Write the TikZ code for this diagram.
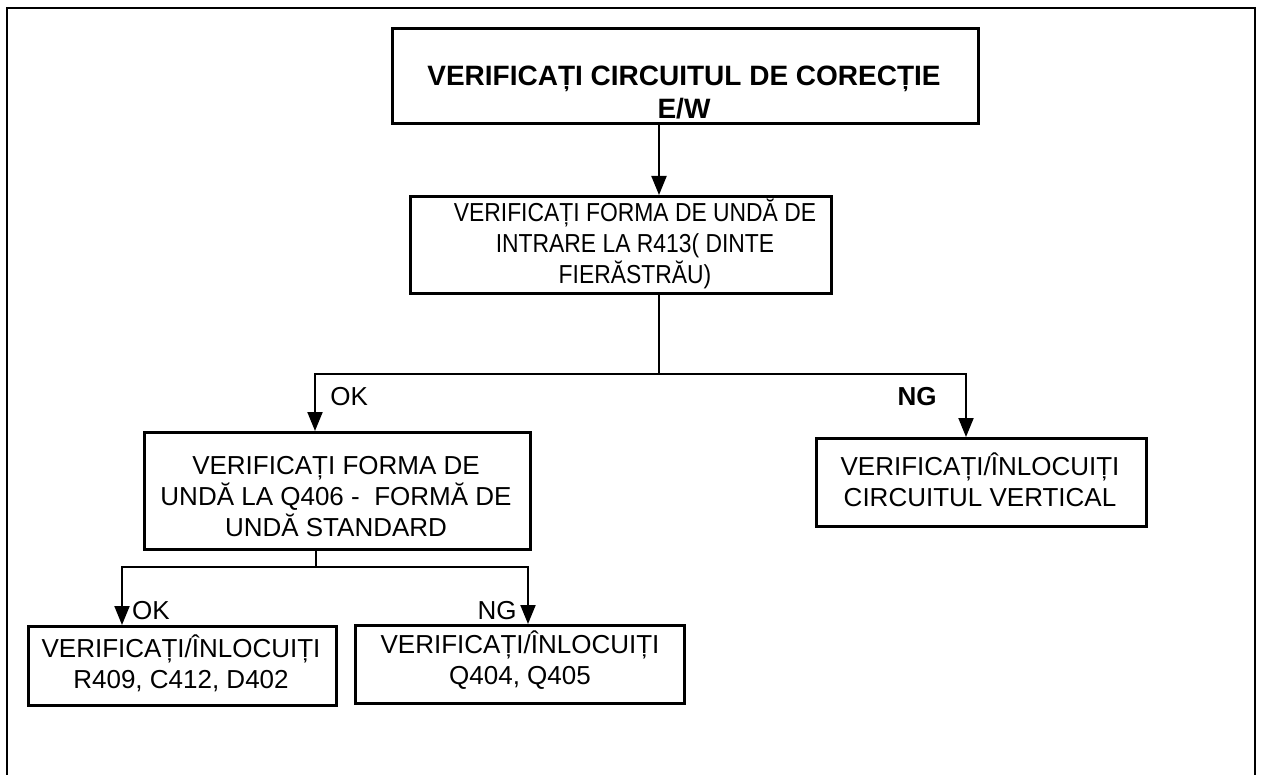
\documentclass[tikz,border=0pt]{standalone}
\usepackage{fontspec}
\setmainfont{Liberation Sans}
\newfontfamily\narrowsans{Liberation Sans}[FakeStretch=0.88]
\usetikzlibrary{arrows.meta}
\begin{document}
\begin{tikzpicture}[x=0.5pt,y=-0.5pt,
  box/.style={draw,line width=1.3pt,anchor=north west,inner sep=0pt},
  txt/.style={align=center,inner sep=0pt,font=\fontsize{13}{15.5}\selectfont},
  stxt/.style={align=center,inner sep=0pt,font=\narrowsans\fontsize{13}{15.5}\selectfont},
  btxt/.style={align=center,inner sep=0pt,font=\fontsize{14}{16.5}\selectfont\bfseries},
  conn/.style={line width=1pt},
  arr/.style={line width=1pt,-{Triangle[length=9.5pt,width=7.5pt]}},
  lbl/.style={inner sep=0pt,font=\fontsize{13}{15.5}\selectfont},
  blbl/.style={inner sep=0pt,font=\fontsize{13}{15.5}\selectfont\bfseries}]
\useasboundingbox (0,0) rectangle (1262,775);
% outer frame (open at the bottom)
\draw[line width=1.3pt] (7,775) -- (7,8) -- (1255,8) -- (1255,775);

% boxes
\node[box,minimum width=293pt,minimum height=47.5pt] (b1) at (391,27) {};
\node[box,minimum width=210.5pt,minimum height=48.5pt] (b2) at (409,195) {};
\node[box,minimum width=193pt,minimum height=58.5pt] (b3) at (143,431) {};
\node[box,minimum width=165pt,minimum height=44pt] (b6) at (815,437) {};
\node[box,minimum width=154pt,minimum height=39.5pt] (b4) at (27,625) {};
\node[box,minimum width=164.5pt,minimum height=39pt] (b5) at (354,624) {};

% texts
\node[btxt] (t1) at (684,93) {VERIFICAȚI CIRCUITUL DE CORECȚIE\\E/W};
\node[stxt] (t2) at (635,244) {VERIFICAȚI FORMA DE UNDĂ DE\\INTRARE LA R413( DINTE\\FIERĂSTRĂU)};
\node[txt] (t3) at (336,497) {VERIFICAȚI FORMA DE\\UNDĂ LA Q406 -\ \ FORMĂ DE\\UNDĂ STANDARD};
\node[txt] (t6) at (980,480) {VERIFICAȚI/ÎNLOCUIȚI\\CIRCUITUL VERTICAL};
\node[txt] (t4) at (181,663) {VERIFICAȚI/ÎNLOCUIȚI\\R409, C412, D402};
\node[txt] (t5) at (520,660) {VERIFICAȚI/ÎNLOCUIȚI\\Q404, Q405};

% helper coordinates
\coordinate (xa) at (659,0);
\coordinate (xok) at (315,0);
\coordinate (xng) at (966,0);
\coordinate (x4) at (122,0);
\coordinate (x5) at (528,0);
\coordinate (j1) at (659,374);
\coordinate (j2) at (316,567);

% connectors
\draw[arr] (b1.south -| xa) -- (b2.north -| xa);
\draw[conn] (b2.south -| xa) -- (j1);
\draw[arr] (j1) -| (xok |- b3.north);
\draw[arr] (j1) -| (xng |- b6.north);
\draw[conn] (b3.south -| j2) -- (j2);
\draw[arr] (j2) -| (x4 |- b4.north);
\draw[arr] (j2) -| (x5 |- b5.north);

% labels
\node[lbl,anchor=west] (lok1) at (330,397) {OK};
\node[blbl,anchor=east] (lng1) at (937,397) {NG};
\node[lbl] (lok2) at (151,611) {OK};
\node[lbl] (lng2) at (497,611) {NG};
\end{tikzpicture}
\end{document}
